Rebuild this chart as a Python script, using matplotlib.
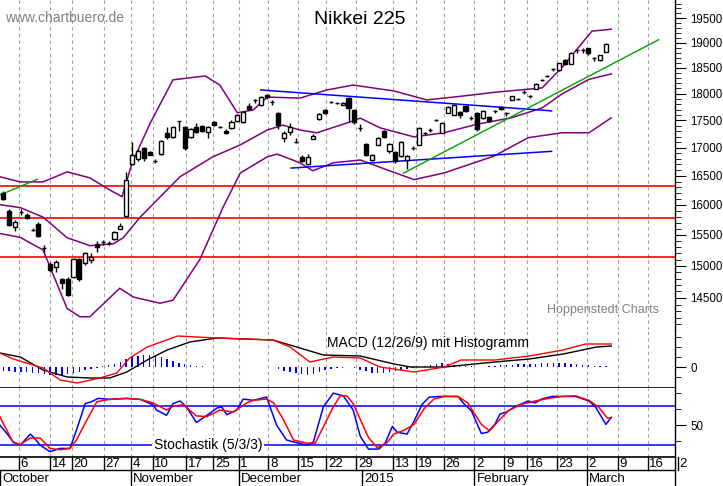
import numpy as np
import matplotlib
matplotlib.use("Agg")
import matplotlib.pyplot as plt
from matplotlib.transforms import blended_transform_factory as btf
from matplotlib.ticker import FixedLocator, FixedFormatter, NullFormatter

plt.rcParams['font.family'] = 'Liberation Sans'

opens = [16210,15900,15630,15880,15835,15585,15685,15290,15030,14990,14795,14795,14825,15115,15045,15095,15355,15380,15370,15440,
         15600,15815,16705,16795,16995,16925,16760,16885,17270,17195,17485,17375,17195,17375,17395,17285,17465,17375,17305,17360,
         17485,17470,17765,17880,17785,17970,17845,17640,17180,17285,17100,16835,16705,17160,17530,17690,17845,17825,17790,17910,
         17690,17360,17065,16780,17050,17305,16940,16925,16850,16780,16995,17050,17270,17320,17505,17270,17640,17600,17655,17765,
         17540,17640,17540,17565,17670,17750,17640,17880,17895,18025,17950,18090,18260,18335,18470,18455,18655,18575,18850,18850,
         18890,18690,18650,18820]
closes = [16105,15665,15715,15880,15780,15585,15480,15290,14935,15065,14735,14545,15115,14795,15210,15145,15300,15380,15370,15545,
          15650,16425,16870,16940,16815,16870,16760,17120,17195,17375,17485,16995,17340,17285,17305,17375,17410,17375,17270,17465,
          17600,17655,17710,17880,17935,17935,17845,17410,17270,17375,17100,16760,16835,17215,17620,17640,17845,17825,17825,17730,
          17470,17360,16870,16870,17175,17195,17065,16760,17100,16850,16995,17360,17270,17320,17505,17450,17750,17785,17600,17670,
          17540,17340,17670,17485,17670,17715,17640,17950,17895,18025,17950,18185,18260,18335,18470,18590,18575,18795,18850,18850,
          18795,18690,18750,18980]
highs = [16240,15930,15740,15930,15870,15610,15720,15330,15060,15090,14810,14830,15120,15130,15225,15200,15400,15410,15400,15560,
         15700,16560,17110,16980,17020,16940,16800,17140,17380,17400,17495,17400,17360,17450,17410,17400,17490,17400,17330,17500,
         17620,17680,17830,17900,17960,18000,17880,17660,17300,17450,17170,16860,16880,17250,17640,17710,17860,17845,17840,17930,
         17705,17440,17080,16885,17200,17320,17080,16940,17120,16860,17030,17370,17290,17360,17520,17460,17760,17810,17670,17780,
         17580,17650,17700,17580,17700,17770,17650,17960,17915,18060,17980,18200,18280,18355,18500,18600,18680,18810,18880,18900,
         18900,18720,18760,18990]
lows = [16080,15640,15560,15830,15760,15560,15460,15230,14900,14900,14640,14530,14810,14760,15020,15050,15220,15340,15330,15410,
        15590,15800,16690,16770,16760,16860,16720,16870,17150,17180,17300,16950,17180,17270,17290,17170,17395,17350,17240,17345,
        17470,17455,17690,17820,17770,17900,17790,17330,17100,17230,17080,16740,16690,17150,17510,17625,17830,17810,17780,17470,
        17440,17300,16850,16760,17040,17180,16900,16730,16840,16620,16960,17040,17230,17290,17480,17260,17630,17590,17550,17660,
        17500,17310,17530,17470,17640,17700,17570,17870,17870,17990,17920,18080,18240,18315,18440,18440,18560,18570,18800,18790,
        18750,18640,18640,18810]

bb_up_x = [-0.6,2.9,6.8,10.9,14.8,18.2,20.3,22,25.1,29,34.5,37,40,42.7,45.1,50.7,55.3,59.8,61,66.8,72.4,78.2,83.9,89.7,92.1,95.5,100.6,103.9]
bb_up_y = [16485,16395,16395,16570,16465,16255,16140,16725,17445,18265,18340,18165,17640,17690,17935,17915,18070,18165,18145,18050,17880,17950,18025,18085,18110,18510,19230,19270]
bb_mid_x = [-0.6,2.9,6.8,10.9,14.8,18.8,20.5,23.4,30.2,35.8,40.5,45.1,47.8,50.7,53.6,59.3,61,64.4,70.2,75.3,81.1,86.8,92.1,95.5,100.1,103.9]
bb_mid_y = [16005,15955,15795,15455,15325,15355,15455,15795,16485,16835,17050,17320,17410,17320,17270,17470,17540,17360,17195,17270,17430,17545,17730,17995,18275,18380]
bb_lo_x = [-0.6,2.9,6.8,10.9,13.1,14.8,19.9,22.2,26.8,29,33.6,37.6,40.5,45.1,46.8,50.7,52.9,56.4,61,65.6,70.2,75.3,83.9,89.7,95.5,100.1,103.9]
bb_lo_y = [15525,15460,15255,14340,14215,14215,14650,14515,14420,14465,15105,15970,16550,16835,16885,16730,16590,16730,16780,16605,16435,16550,16850,17180,17270,17270,17545]

red_levels = [16325, 15785, 15140]
blue_up = ([44, 93.7], [18070, 17675])
blue_lo = ([49.2, 93.7], [16637, 16934])
green_long = ([68.4, 112], [16548, 19057])
green_short = ([-0.56, 5.8], [16170, 16440])

macd_sig_x = [-0.6,2.9,6.8,10.9,14.8,18.2,21.1,24.6,28,31.9,36.5,46.1,50.7,54.7,61,66.8,69.6,75.4,84,89.9,95.7,101.4,103.9]
macd_sig_y = [14,10,-3,-10,-11,-11,-5,7,17,25,29,27,19,12,11,3,0,0,5,8,13,20,21]
macd_x = [-0.6,1.7,6.8,9.7,12.6,16.5,19.4,21.6,24.6,29.8,36.5,46.1,49,52.4,56.4,61,64.4,70.2,75.4,78.2,84,89.9,95.7,99.5,103.9]
macd_y = [14,8,-1,-13,-16,-11,-6,9,20,31,29,27,20,5,10,9,0,-5,0,7,7,11,17,23,23]
hist = [-4,-4,-5,-5,-5,-6,-6,-7,-8,-8,-8,-7,-6,-5,-3,-2,-1,1,2,3,5,8,10,11,12,12,11,10,8,6,4,3,2,1,1,0,0.5,0.5,0.5,0.3,
        0,0,0,0,0,0,0,-2,-4,-5,-6,-7,-8,-7,-5,-3,-2,-1,-1,0,-1,-3,-4,-6,-6,-6,-5,-4,-3,-2,-1,0,1,2,3,4,3,2,1,1,
        1,0,0,1,1,2,2,2,3,3,3,3,4,4,4,4,4,3,3,2,2,1,1,1]

stk_x = [-0.6,0.6,1.7,2.9,4.6,5.1,6.3,8,9.7,11.4,12.5,14,15.1,16.2,18.2,21.1,23.4,25.6,26.2,27.9,29,30.2,31.3,33,34.8,36.5,37.3,38.2,39.9,41,42.7,45,46.7,48.4,49.6,51.9,53,54.7,56.4,58.1,59.8,61,62.4,64.2,65.3,66.5,67.3,69,70.2,71.6,72.8,74.8,77.7,78.8,80,81.7,82.8,84,84.9,86,87.4,89.7,90.9,92,93.8,97.8,100.1,101.2,103,103.9]
stk_k = [50,37,24,19,36,32,19,9,14,14,42,83,86,91,89.5,91,89.5,81,73,65,83,87,78,54,65,76,78,66,73,90,88,93,50,27,24,19,24,78,99,95,73,33,13,13,23,48,39,36,56,82,93,94,94,82,72,37,39,51,67,70,78,87,84,90,94,94,87,78,51,62]
std_x = [-0.6,0.6,1.7,2.9,4.6,6.3,8,9.7,11.4,12.5,14.3,16,18.2,21.1,23.4,25.6,27.9,29,30.8,33,34.8,37,39.3,41.6,42.7,45,46.2,47.9,49.6,51.9,53.3,54.7,56.4,57.6,58.7,59.8,61,62.4,63.9,65.6,66.7,68.5,70.2,71.9,73.6,75.4,77.7,79.4,81.7,83.1,84.6,86.3,88.6,90.9,93.2,95.5,97.8,100.1,101.8,103.2,103.9]
std_d = [63,42,23,20,30,30,14,12,14,27,58,86,89.5,91,89.5,84,73,79,81,64,63,73,70,84,88,90,84,58,27,22,22,47,78,95,95,83,59,31,15,23,36,42,51,75,90,94,94,84,51,41,56,72,82,87,91,94,95,88,77,61,61]

tick_pos = [2.6,8.0,11.7,17.2,21.8,25.5,31.2,35.9,40.2,45.3,50.4,55.2,60.3,66.6,70.5,75.3,80.5,85.6,89.5,94.6,99.7,105,110.1,115.3]
tick_lab = ['6','14','20','27','4','10','17','25','1','8','15','22','29','13','19','26','2','9','16','23','2','9','16','2']
month_pos = [-0.56,21.8,40.2,61.3,80.5,99.7]
month_lab = ['October','November','December','2015','February','March']
price_ticks = [14500,15000,15500,16000,16500,17000,17500,18000,18500,19000,19500]

W, H = 723, 486
fig = plt.figure(figsize=(W/100, H/100), dpi=100)
R = 675/W
def axrect(y0, y1):
    return [0, 1 - y1/H, R, (y1 - y0)/H]
ax = fig.add_axes(axrect(0, 330))
axm = fig.add_axes(axrect(330, 388), sharex=ax)
axs = fig.add_axes(axrect(388, 457), sharex=ax)
XL = (-0.564, 114.8)

for a in (ax, axm, axs):
    a.set_xlim(*XL)
    for s in ('left', 'top'):
        a.spines[s].set_visible(False)
    a.spines['bottom'].set_visible(False)
    a.spines['right'].set_linewidth(1)
    a.yaxis.tick_right()
    a.tick_params(axis='x', bottom=False, labelbottom=False)
    a.tick_params(axis='y', which='major', direction='out', length=8, labelsize=8.3, pad=3)
    a.tick_params(axis='y', which='minor', direction='out', length=4)
    for t in tick_pos:
        a.axvline(t, color='#a0a0a0', ls=(0, (3, 3)), lw=0.8, zorder=0)

# main panel
ax.set_yscale('log')
ax.set_ylim(14017, 19875)
ax.yaxis.set_major_locator(FixedLocator(price_ticks))
ax.yaxis.set_major_formatter(FixedFormatter([str(v) for v in price_ticks]))
ax.yaxis.set_minor_locator(FixedLocator([v for v in range(14100, 19900, 100) if v % 500]))
ax.yaxis.set_minor_formatter(NullFormatter())
for lv in red_levels:
    ax.axhline(lv, color='red', lw=1.2, zorder=1)
ax.plot(bb_up_x, bb_up_y, color='#800080', lw=1.1, zorder=2)
ax.plot(bb_mid_x, bb_mid_y, color='#800080', lw=1.1, zorder=2)
ax.plot(bb_lo_x, bb_lo_y, color='#800080', lw=1.1, zorder=2)
ax.plot(*blue_up, color='blue', lw=1.1, zorder=2)
ax.plot(*blue_lo, color='blue', lw=1.1, zorder=2)
ax.plot(*green_long, color='#00a000', lw=1, zorder=2)
ax.plot(*green_short, color='#00a000', lw=1, zorder=2)
xi = np.arange(len(closes))
o = np.array(opens); c = np.array(closes)
ax.vlines(xi, lows, highs, color='black', lw=1, zorder=3)
up = c >= o
bot = np.minimum(o, c); hgt = np.abs(c - o)
ax.bar(xi[up], hgt[up], bottom=bot[up], width=0.7, color='white', edgecolor='black', lw=1, zorder=4)
ax.bar(xi[~up], hgt[~up], bottom=bot[~up], width=0.7, color='black', edgecolor='black', lw=1, zorder=4)
ax.text(0.007, 1 - 18/330, 'www.chartbuero.de', transform=ax.transAxes, color='#808080', fontsize=10, va='center')
ax.text(360/675, 1 - 20/330, 'Nikkei 225', transform=ax.transAxes, fontsize=14, ha='center', va='center')
ax.text(603/675, 1 - 310/330, 'Hoppenstedt Charts', transform=ax.transAxes, color='#808080', fontsize=9, ha='center', va='center')

# MACD
axm.set_ylim(-21, 37)
axm.bar(xi, hist, width=0.25, color='blue', zorder=2)
axm.plot(macd_sig_x, macd_sig_y, color='black', lw=1, zorder=3)
axm.plot(macd_x, macd_y, color='red', lw=1, zorder=3)
axm.yaxis.set_major_locator(FixedLocator([0]))
axm.yaxis.set_major_formatter(FixedFormatter(['0']))
axm.yaxis.set_minor_locator(FixedLocator([-10, 10, 20, 30]))
axm.yaxis.set_minor_formatter(NullFormatter())
axm.text(327/675, (388 - 343)/58, 'MACD (12/26/9) mit Histogramm', transform=axm.transAxes,
         fontsize=10, va='center')
axm.axhline(-21, color='black', lw=1.2, clip_on=False)

# Stochastics
axs.set_ylim(0.8, 107)
axs.axhline(80, color='blue', lw=1.1, zorder=1)
axs.axhline(20, color='blue', lw=1.1, zorder=1)
axs.plot(stk_x, stk_k, color='blue', lw=1.1, zorder=3)
axs.plot(std_x, std_d, color='red', lw=1.1, zorder=3)
axs.yaxis.set_major_locator(FixedLocator([50]))
axs.yaxis.set_major_formatter(FixedFormatter(['50']))
axs.yaxis.set_minor_locator(FixedLocator([0, 25, 75, 100]))
axs.yaxis.set_minor_formatter(NullFormatter())
axs.text(35.0, 20, 'Stochastik (5/3/3)', fontsize=10, ha='center', va='center', zorder=5,
         bbox=dict(facecolor='white', edgecolor='none', pad=1))
axs.axhline(0.8, color='black', lw=1.2, clip_on=False)

# date rows
tr = btf(axs.transData, fig.transFigure)
for t, l in zip(tick_pos, tick_lab):
    axs.plot([t, t], [1 - 457/H, 1 - 470/H], color='black', lw=1, transform=tr, clip_on=False)
    axs.text(t + 0.3, 1 - 463.5/H, l, transform=tr, fontsize=9.5, va='center', ha='left', clip_on=False)
for t, l in zip(month_pos, month_lab):
    axs.plot([t, t], [1 - 470/H, 0], color='black', lw=1, transform=tr, clip_on=False)
    axs.text(t + 0.4, 1 - 479/H, l, transform=tr, fontsize=9.5, va='center', ha='left', clip_on=False)
axs.plot([XL[0], XL[1]], [1 - 470/H, 1 - 470/H], color='black', lw=1, transform=tr, clip_on=False)
axs.plot([XL[1], XL[1]], [1 - 457/H, 0], color='black', lw=1, transform=tr, clip_on=False)

fig.savefig('out.png', dpi=100)
